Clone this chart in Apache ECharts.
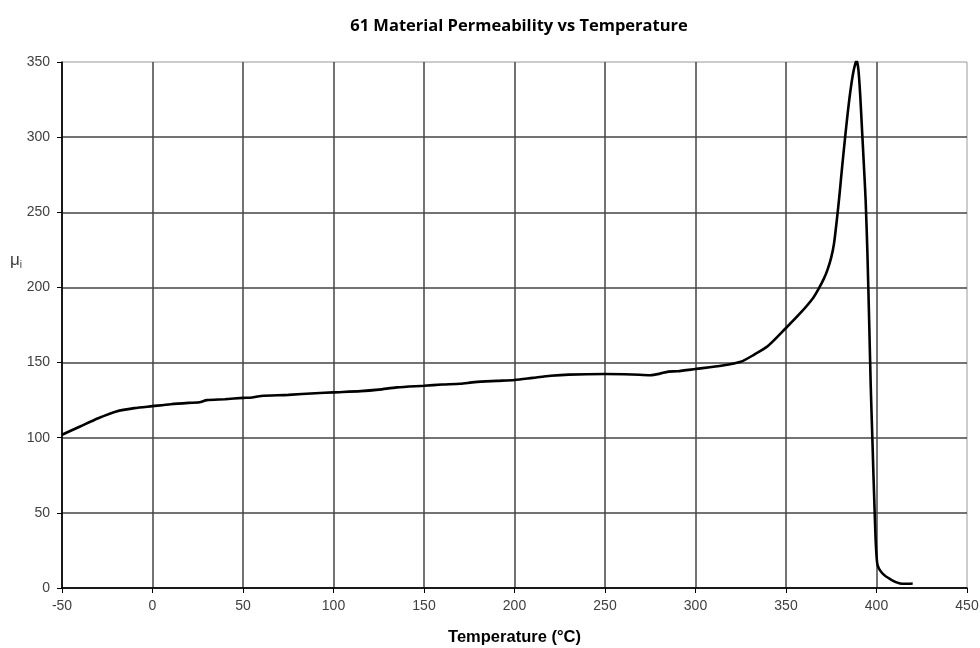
<!DOCTYPE html>
<html>
<head>
<meta charset="utf-8">
<script src="https://cdn.jsdelivr.net/npm/echarts@6/dist/echarts.min.js"></script>
<style>
  html, body { margin: 0; padding: 0; background: #fff; }
  #chart { width: 980px; height: 648px; }
</style>
</head>
<body>
<div id="chart"></div>
<script>
// Initial permeability of 61 material across temperature (°C)
const temperatures = [
  -50, -40, -30, -20, -10, 0, 10, 20, 26, 30, 40, 50, 55, 60, 75, 90, 100,
  115, 125, 135, 150, 160, 170, 178, 190, 200, 210, 220, 230, 250, 265, 275,
  280, 285, 290, 300, 315, 325, 332, 340, 350, 358, 365, 368, 371, 373,
  375, 376.5, 378, 379.5, 381, 382.5, 384, 385.5, 387, 388.2, 389, 390, 391,
  392, 393, 394, 395, 396, 396.8, 397.7, 399, 400.4, 403.2, 408.4, 413, 416, 420
];
const permeability = [
  102, 107.5, 113, 117.5, 119.7, 121, 122.3, 123.2, 123.6, 125, 125.6, 126.5,
  126.8, 127.8, 128.5, 129.6, 130.2, 131, 132, 133.5, 134.6, 135.4, 135.9, 137,
  137.8, 138.4, 139.8, 141.2, 142, 142.4, 142.1, 141.6, 142.5, 144, 144.2,
  145.7, 148, 150.5, 155, 161, 173, 183, 193, 199, 206, 212, 220, 229, 244,
  261, 280, 298, 315, 330, 342, 348.5, 351, 345, 328, 305, 282, 258, 222, 175,
  135, 100, 50, 16.4, 9.8, 5.3, 3, 2.8, 3
];
const xTicks = { min: -50, max: 450, step: 50 };
const yTicks = { min: 0, max: 350, step: 50 };

const points = temperatures.map((t, i) => [t, permeability[i]]);

const chart = echarts.init(document.getElementById('chart'), null, { renderer: 'canvas' });
const labelFont = { color: '#404040', fontSize: 14, fontFamily: 'Liberation Sans, Arial, sans-serif' };
const gridLine = { show: true, showMaxLine: false, lineStyle: { color: '#444', width: 1.5 } };

chart.setOption({
  animation: false,
  backgroundColor: '#fff',
  title: {
    text: '61 Material Permeability vs Temperature',
    left: 514, top: 13, textAlign: 'center',
    textStyle: { fontFamily: 'Open Sans, sans-serif', fontWeight: 'bold', fontSize: 16.5, color: '#000' }
  },
  grid: {
    left: 62, right: 13, top: 62, bottom: 60,
    outerBoundsMode: 'none', containLabel: false,
    show: true, borderColor: '#9a9a9a', borderWidth: 1, backgroundColor: '#fff'
  },
  xAxis: {
    type: 'value', min: xTicks.min, max: xTicks.max, interval: xTicks.step,
    name: 'Temperature (°C)', nameLocation: 'middle', nameGap: 41,
    nameTextStyle: { fontFamily: 'Liberation Sans, Arial, sans-serif', fontWeight: 'bold', fontSize: 16.5, color: '#000' },
    axisLine: { show: true, onZero: false, lineStyle: { color: '#000', width: 1.5 } },
    axisTick: { show: true, length: 5, lineStyle: { color: '#000' } },
    axisLabel: Object.assign({ margin: 11 }, labelFont),
    splitLine: gridLine
  },
  yAxis: {
    type: 'value', min: yTicks.min, max: yTicks.max, interval: yTicks.step,
    axisLine: { show: true, onZero: false, lineStyle: { color: '#000', width: 1.5 } },
    axisTick: { show: true, length: 5, lineStyle: { color: '#000' } },
    axisLabel: Object.assign({ margin: 12 }, labelFont),
    splitLine: gridLine
  },
  graphic: [{
    type: 'text', left: 10, top: 252,
    style: {
      text: 'μ{s|i}',
      fill: '#404040',
      font: '17px Liberation Sans, Arial, sans-serif',
      rich: { s: { fontSize: 10, fill: '#404040', verticalAlign: 'bottom', padding: [9, 0, 0, 0] } }
    }
  }],
  series: [{
    type: 'line',
    data: points,
    smooth: 0.25,
    showSymbol: false,
    clip: true,
    lineStyle: { color: '#000', width: 2.6 }
  }]
});
</script>
</body>
</html>
